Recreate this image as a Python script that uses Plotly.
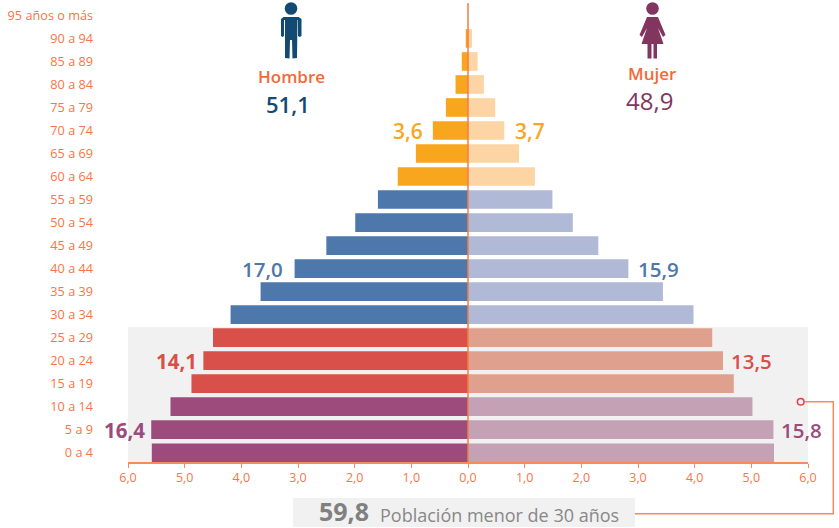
import plotly.graph_objects as go

ages = ["0 a 4", "5 a 9", "10 a 14", "15 a 19", "20 a 24", "25 a 29", "30 a 34", "35 a 39", "40 a 44", "45 a 49",
        "50 a 54", "55 a 59", "60 a 64", "65 a 69", "70 a 74", "75 a 79", "80 a 84", "85 a 89", "90 a 94", "95 años o más"]
hombres = [5.58, 5.59, 5.25, 4.88, 4.67, 4.50, 4.19, 3.66, 3.06, 2.50, 1.99, 1.59, 1.24, 0.92, 0.62, 0.39, 0.22, 0.11, 0.04, 0.0]
mujeres = [5.40, 5.39, 5.02, 4.69, 4.50, 4.31, 3.98, 3.44, 2.83, 2.30, 1.85, 1.49, 1.18, 0.90, 0.64, 0.48, 0.28, 0.17, 0.07, 0.0]
tick_vals = [-6, -5, -4, -3, -2, -1, 0, 1, 2, 3, 4, 5, 6]
tick_text = ["6,0", "5,0", "4,0", "3,0", "2,0", "1,0", "0,0", "1,0", "2,0", "3,0", "4,0", "5,0", "6,0"]

PURPLE, RED, BLUE, AMBER = "#9C4B7C", "#D94F49", "#4E77AB", "#F9A61F"
PURPLE_L, RED_L, BLUE_L, AMBER_L = "#C5A1B6", "#E0A08E", "#B0BAD6", "#FDD4A3"
colors_m = [PURPLE] * 3 + [RED] * 3 + [BLUE] * 6 + [AMBER] * 8
colors_f = [PURPLE_L] * 3 + [RED_L] * 3 + [BLUE_L] * 6 + [AMBER_L] * 8

ORANGE = "#F97446"
LINE = "#F98A5E"
FONT = "Open Sans"
W, H = 839, 528
L, R, T, B = 128, 808, 3, 462


def px(x):
    return (x - L) / (R - L)


def py(y):
    return (B - y) / (B - T)


def path(points):
    return "M" + " L".join(f"{px(x):.5f},{py(y):.5f}" for x, y in points) + " Z"


def circle(cx, cy, r):
    return dict(type="circle", xref="paper", yref="paper", x0=px(cx - r), x1=px(cx + r), y0=py(cy + r), y1=py(cy - r))


fig = go.Figure()
fig.add_bar(y=ages, x=[-v for v in hombres], orientation="h", marker=dict(color=colors_m, line_width=0), name="Hombre")
fig.add_bar(y=ages, x=mujeres, orientation="h", marker=dict(color=colors_f, line_width=0), name="Mujer")

shapes = [
    dict(type="rect", xref="x", yref="paper", x0=-6, x1=6, y0=0, y1=py(327), fillcolor="#F1F1F1", line_width=0, layer="below"),
    dict(type="rect", xref="paper", yref="paper", x0=px(293), x1=px(635), y0=py(527), y1=py(498), fillcolor="#F1F1F1", line_width=0, layer="below"),
    dict(type="line", xref="x", yref="paper", x0=0, x1=0, y0=0, y1=py(3), line=dict(color="#F57C44", width=1.5)),
    dict(type="path", xref="paper", yref="paper", path="M%.5f,%.5f L%.5f,%.5f L%.5f,%.5f L%.5f,%.5f" % (
        px(804.5), py(401.7), px(833.3), py(401.7), px(833.3), py(513.7), px(635), py(513.7)),
        line=dict(color=LINE, width=1.5)),
    dict(circle(800.7, 401.7, 3.3), fillcolor="rgba(0,0,0,0)", line=dict(color="#EE3B45", width=1.5)),
    # Hombre icon
    dict(circle(291, 8.5, 6.3), fillcolor="#134A74", line_width=0),
    dict(type="path", xref="paper", yref="paper", fillcolor="#134A74", line_width=0, path=path([
        (283.5, 17), (298.5, 17), (301.5, 19), (301.5, 36), (299.5, 37), (298, 36), (298, 20), (297.5, 20), (297, 58), (292.5, 58.5), (292, 40),
        (290, 40), (289.5, 58.5), (285, 58), (285, 20), (284, 20), (284, 36), (282.5, 37), (281, 36), (281, 19)])),
    # Mujer icon
    dict(circle(652.5, 8.5, 6.3), fillcolor="#82355F", line_width=0),
    dict(type="path", xref="paper", yref="paper", fillcolor="#82355F", line_width=0, path=path([
        (647, 17), (658, 17), (665.5, 35), (663, 37), (658, 28), (663.5, 44), (657, 44), (657, 58.5), (653.5, 58.5), (653.5, 44),
        (651.5, 44), (651.5, 58.5), (647.5, 58.5), (647.5, 44), (641.5, 44), (647, 28), (642, 37), (639.5, 35)])),
]


def label(x, y, text, color, size, anchor="center", weight=600):
    return dict(xref="x", yref="y", x=x, y=y, text=text, showarrow=False, xanchor=anchor, yanchor="middle",
                font=dict(color=color, size=size, family=FONT, weight=weight))


def free(x, y, text, color, size, anchor="center", weight=400):
    return dict(xref="paper", yref="paper", x=px(x), y=py(y), text=text, showarrow=False, xanchor=anchor, yanchor="middle",
                font=dict(color=color, size=size, family=FONT, weight=weight))


annotations = [
    label(-0.62 - 0.14, "70 a 74", "3,6", AMBER, 21, "right"),
    label(0.64 + 0.15, "70 a 74", "3,7", AMBER, 21, "left"),
    label(-3.06 - 0.17, "40 a 44", "17,0", BLUE, 20.5, "right"),
    label(2.83 + 0.13, "40 a 44", "15,9", BLUE, 20.5, "left"),
    label(-4.67 - 0.08, "20 a 24", "14,1", RED, 20.5, "right", 700),
    label(4.50 + 0.10, "20 a 24", "13,5", RED, 20.5, "left"),
    label(-5.59 - 0.07, "5 a 9", "16,4", PURPLE, 20.5, "right", 700),
    label(5.39 + 0.10, "5 a 9", "15,8", PURPLE, 20.5, "left"),
    free(291.5, 77, "Hombre", "#F4693A", 17, weight=600),
    free(288, 104, "51,1", "#134A74", 22, weight=600),
    free(652.5, 74, "Mujer", "#F4693A", 17, weight=600),
    free(649, 101, "48,9", "#82355F", 24, weight=500),
    free(317, 511, "59,8", "#808080", 25, "left", 700),
    free(378, 515, "Población menor de 30 años", "#888888", 18, "left"),
]

fig.update_layout(
    width=W, height=H, autosize=False, barmode="overlay", bargap=0.19, showlegend=False,
    margin=dict(l=L, r=W - R, t=T, b=H - B, pad=0),
    paper_bgcolor="white", plot_bgcolor="rgba(0,0,0,0)",
    font=dict(family=FONT, color=ORANGE, size=12.5),
    shapes=shapes, annotations=annotations,
    xaxis=dict(range=[-6, 6], tickmode="array", tickvals=tick_vals, ticktext=tick_text, showgrid=False, zeroline=False,
               showline=True, linecolor=LINE, linewidth=1.5, ticks="outside", ticklen=4, tickcolor=LINE, tickwidth=1,
               ticklabelstandoff=-1, tickfont=dict(size=12.5, color=ORANGE, family=FONT), fixedrange=True),
    yaxis=dict(type="category", categoryorder="array", categoryarray=ages, range=[-0.404, 19.54], showgrid=False, zeroline=False,
               showline=False, ticks="", ticklabelstandoff=34, tickfont=dict(size=12.7, color=ORANGE, family=FONT), fixedrange=True),
)
fig.write_html("out.html", config=dict(displayModeBar=False),
               post_script="document.body.style.margin='0';document.body.style.overflow='hidden';")
